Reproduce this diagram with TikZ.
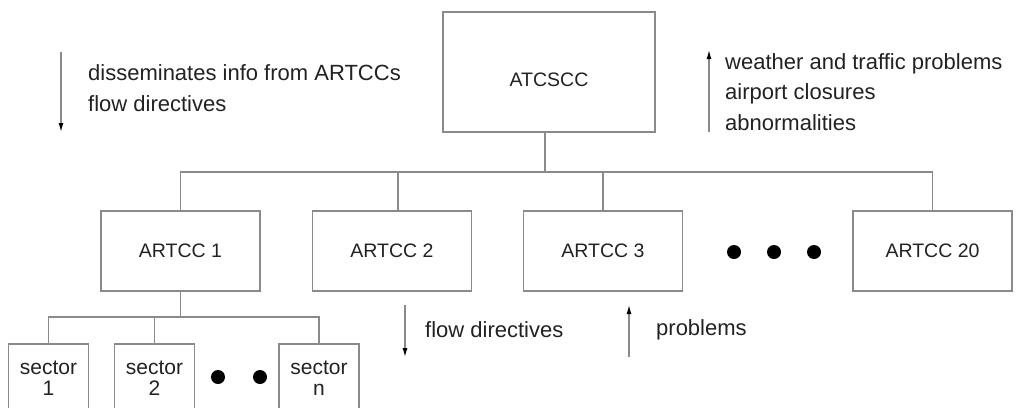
\documentclass[tikz,border=0pt]{standalone}
\usepackage{fontspec}
\setmainfont{Liberation Sans}
\usetikzlibrary{arrows.meta}
\definecolor{boxgray}{HTML}{8A8A8A}
\definecolor{txt}{HTML}{222222}
\tikzset{
  box/.style={draw=boxgray, line width=1.4pt, rectangle, minimum width=159pt, minimum height=80pt, inner sep=0pt, text=txt, font=\fontsize{19.5}{22}\selectfont},
  sectorbox/.style={draw=boxgray, line width=1.4pt, rectangle, minimum width=80pt, minimum height=68pt, inner sep=0pt, text=txt, align=center, font=\fontsize{21}{21}\selectfont},
  conn/.style={draw=boxgray, line width=1.4pt},
  flowarrow/.style={draw=boxgray, line width=1.2pt, -{Latex[length=9pt,width=5pt,color=black]}},
  note/.style={anchor=west, inner sep=0pt, text=txt, align=left, font=\fontsize{22}{31}\selectfont},
  dotmark/.style={circle, fill=black, inner sep=0pt, minimum size=14pt},
}
\begin{document}
\begin{tikzpicture}[x=1pt,y=-1pt]
\useasboundingbox (0,0) rectangle (1025,407);
\clip (0,0) rectangle (1025,407);
\fill[white] (0,0) rectangle (1025,407);

% top box
\node[box, minimum width=212pt, minimum height=120pt, text height=29pt, text depth=0pt] (atcscc) at (549,72) {ATCSCC};

% ARTCC boxes
\node[box] (a1) at (180.5,251) {ARTCC 1};
\node[box] (a2) at (392,251) {ARTCC 2};
\node[box] (a3) at (603,251) {ARTCC 3};
\node[box] (a20) at (932.5,251) {ARTCC 20};

\node[dotmark] (d1) at (734,252) {};
\node[dotmark] (d2) at (774,252) {};
\node[dotmark] (d3) at (814,252) {};

% sectors
\node[sectorbox] (s1) at (48.5,378) {sector\\1};
\node[sectorbox] (s2) at (154.5,378) {sector\\2};
\node[sectorbox] (sn) at (319,378) {sector\\n};
\node[dotmark] (e1) at (218,377) {};
\node[dotmark] (e2) at (260,377) {};

% tree connectors
\coordinate (j0) at (545,172);
\coordinate (j1) at (181,317);
\draw[conn] ([xshift=-4pt]atcscc.south) -- ([xshift=-4pt]atcscc.south |- j0);
\draw[conn] (a1.north) |- (a20.north |- j0) -- (a20.north);
\draw[conn] ([xshift=6pt]a2.north) -- ([xshift=6pt]a2.north |- j0);
\draw[conn] (a3.north) -- (a3.north |- j0);

\draw[conn] (a1.south) -- (a1.south |- j1);
\draw[conn] (s1.north) |- (sn.north |- j1) -- (sn.north);
\draw[conn] (s2.north) -- (s2.north |- j1);

% annotation arrows
\coordinate (tl0) at (61,52);
\coordinate (tl1) at (61,132);
\draw[flowarrow] (tl0) -- (tl1);
\node[note] (tltext) at (88,88) {disseminates info from ARTCCs\\flow directives};

\coordinate (tr0) at (709,132);
\coordinate (tr1) at (709,50);
\draw[flowarrow] (tr0) -- (tr1);
\node[note, font=\fontsize{22}{30.5}\selectfont] (trtext) at (725,92) {weather and traffic problems\\airport closures\\abnormalities};

\coordinate (fd0) at (405,305);
\coordinate (fd1) at (405,357);
\draw[flowarrow] (fd0) -- (fd1);
\node[note] (fdtext) at (425,330) {flow directives};

\coordinate (pr0) at (629,357);
\coordinate (pr1) at (629,305);
\draw[flowarrow] (pr0) -- (pr1);
\node[note] (prtext) at (656,330) {problems};
\end{tikzpicture}
\end{document}
